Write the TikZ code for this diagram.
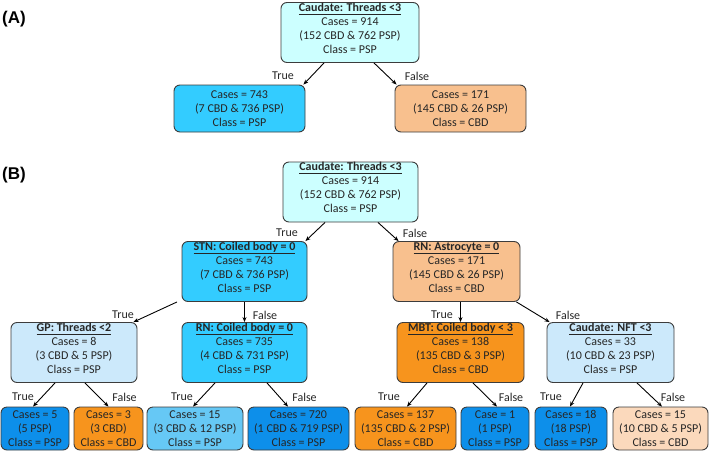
\documentclass[tikz,border=0pt]{standalone}
\usepackage{fontspec}
\setmainfont{Carlito}
\newfontfamily\panelfont{Liberation Sans}
\usepackage{tikz}
\usetikzlibrary{arrows.meta}
\definecolor{rootcyan}{HTML}{CCFFFF}
\definecolor{pspcyan}{HTML}{33CCFF}
\definecolor{pspsky}{HTML}{CCE9FB}
\definecolor{pspmid}{HTML}{66C8F5}
\definecolor{pspblue}{HTML}{0D8FEA}
\definecolor{cbdorange}{HTML}{F7941D}
\definecolor{cbdpeach}{HTML}{F8C08E}
\definecolor{cbdlight}{HTML}{FBD9BC}
\definecolor{inkgray}{HTML}{262626}
\definecolor{edgegray}{HTML}{3C3C3C}
\newcommand{\splithead}[1]{\underline{\smash{\textbf{#1}}\rule[-1.3pt]{0pt}{0pt}}}
\tikzstyle{box} = [draw=edgegray, line width=0.9pt, rounded corners=6pt, align=center, inner sep=1pt, text=inkgray, font=\fontsize{12}{14}\selectfont]
\tikzstyle{split} = [box, minimum height=60pt]
\tikzstyle{leaf} = [box, minimum height=43pt]
\tikzstyle{branch} = [inner sep=0pt, text=inkgray, font=\fontsize{12}{14}\selectfont]
\tikzstyle{panel} = [inner sep=0pt, font=\panelfont\fontsize{17}{20}\selectfont\bfseries]

\begin{document}
\begin{tikzpicture}[x=1pt, y=-1pt, >={Stealth[length=5pt, width=4pt]}, every path/.style={line width=0.9pt}]
			\useasboundingbox (0,0) rectangle (709,453);
			% (A)
			\node[panel]                                                        (labA)   at (14,19)      {(A)};
			\node[split, fill=rootcyan, minimum width=138pt]                    (rootA)  at (350,32.5)   {\splithead{Caudate: Threads <3}\\Cases = 914\\(152 CBD \& 762 PSP)\\Class = PSP};
			\node[box, fill=pspcyan, minimum width=131pt, minimum height=47pt]  (trueA)  at (239.5,108.5) {Cases = 743\\(7 CBD \& 736 PSP)\\Class = PSP};
			\node[box, fill=cbdpeach, minimum width=131pt, minimum height=47pt] (falseA) at (460.5,108.5) {Cases = 171\\(145 CBD \& 26 PSP)\\Class = CBD};
			\node[branch] (tA) at (283,76) {True};
			\node[branch] (fA) at (417,76) {False};

			\draw[->] ([xshift=-26pt]rootA.south) -- ([xshift=-2pt]trueA.north east);
			\draw[->] ([xshift=24pt]rootA.south)  -- ([xshift=2pt]falseA.north west);

			% (B)
			\node[panel]                                      (labB)  at (14,175)     {(B)};
			\node[split, fill=rootcyan, minimum width=135pt]  (rootB) at (350.5,192)  {\splithead{Caudate: Threads <3}\\Cases = 914\\(152 CBD \& 762 PSP)\\Class = PSP};
			\node[split, fill=pspcyan, minimum width=125pt]   (stn)   at (244.5,271.5) {\splithead{STN: Coiled body = 0}\\Cases = 743\\(7 CBD \& 736 PSP)\\Class = PSP};
			\node[split, fill=cbdpeach, minimum width=127pt]  (rna)   at (456.5,271.5) {\splithead{RN: Astrocyte = 0}\\Cases = 171\\(145 CBD \& 26 PSP)\\Class = CBD};
			\node[split, fill=pspsky, minimum width=126pt]    (gp)    at (74,352.5)   {\splithead{GP: Threads <2}\\Cases = 8\\(3 CBD \& 5 PSP)\\Class = PSP};
			\node[split, fill=pspcyan, minimum width=125pt]   (rnc)   at (244.5,352.5) {\splithead{RN: Coiled body = 0}\\Cases = 735\\(4 CBD \& 731 PSP)\\Class = PSP};
			\node[split, fill=cbdorange, minimum width=127pt] (mbt)   at (460.5,352.5) {\splithead{MBT: Coiled body < 3}\\Cases = 138\\(135 CBD \& 3 PSP)\\Class = CBD};
			\node[split, fill=pspsky, minimum width=127pt]    (nft)   at (610.5,352.5) {\splithead{Caudate: NFT <3}\\Cases = 33\\(10 CBD \& 23 PSP)\\Class = PSP};

			\node[leaf, fill=pspblue, minimum width=68pt]    (leaf1) at (35,428.5)    {Cases = 5\\(5 PSP)\\Class = PSP};
			\node[leaf, fill=cbdorange, minimum width=69pt]  (leaf2) at (108.5,428.5) {Cases = 3\\(3 CBD)\\Class = CBD};
			\node[leaf, fill=pspmid, minimum width=96pt]     (leaf3) at (195,428.5)   {Cases = 15\\(3 CBD \& 12 PSP)\\Class = PSP};
			\node[leaf, fill=pspblue, minimum width=101pt]   (leaf4) at (298.5,428.5) {Cases = 720\\(1 CBD \& 719 PSP)\\Class = PSP};
			\node[leaf, fill=cbdorange, minimum width=101pt] (leaf5) at (405.5,428.5) {Cases = 137\\(135 CBD \& 2 PSP)\\Class = CBD};
			\node[leaf, fill=pspblue, minimum width=68pt]    (leaf6) at (495,428.5)   {Case = 1\\(1 PSP)\\Class = PSP};
			\node[leaf, fill=pspblue, minimum width=72pt]    (leaf7) at (571,428.5)   {Cases = 18\\(18 PSP)\\Class = PSP};
			\node[leaf, fill=cbdlight, minimum width=95pt]   (leaf8) at (660.5,428.5) {Cases = 15\\(10 CBD \& 5 PSP)\\Class = CBD};

			\node[branch] (tB)   at (287,233)   {True};
			\node[branch] (fB)   at (415,233)   {False};
			\node[branch] (tSTN) at (123,315)   {True};
			\node[branch] (fSTN) at (265,315)   {False};
			\node[branch] (tRNa) at (442,315)   {True};
			\node[branch] (fRNa) at (568,315)   {False};
			\node[branch] (tGP)  at (23,397)    {True};
			\node[branch] (fGP)  at (124.5,397) {False};
			\node[branch] (tRNc) at (182,397)   {True};
			\node[branch] (fRNc) at (304.5,397) {False};
			\node[branch] (tMBT) at (389,397)   {True};
			\node[branch] (fMBT) at (511,397)   {False};
			\node[branch] (tNFT) at (551,397)   {True};
			\node[branch] (fNFT) at (673,397)   {False};

			\draw[->] ([xshift=-25.5pt]rootB.south) -- ([xshift=-2pt]stn.north east);
			\draw[->] ([xshift=27.5pt]rootB.south)  -- ([xshift=6pt]rna.north west);
			\draw[->] ([xshift=-67.5pt]stn.south)   -- ([xshift=-4pt]gp.north east);
			\draw[->] (rnc.north |- stn.south)      -- (rnc.north);
			\draw[->] (mbt.north |- rna.south)      -- (mbt.north);
			\draw[->] ([xshift=-4pt]rna.south east) -- ([xshift=3pt]nft.north west);
			\draw[->] ([xshift=-19pt]gp.south)      -- ([xshift=-2pt]leaf1.north);
			\draw[->] ([xshift=11pt]gp.south)       -- (leaf2.north);
			\draw[->] ([xshift=-29.5pt]rnc.south)   -- ([xshift=-2pt]leaf3.north);
			\draw[->] ([xshift=22.5pt]rnc.south)    -- ([xshift=-10.5pt]leaf4.north);
			\draw[->] ([xshift=-33.5pt]mbt.south)   -- ([xshift=1.5pt]leaf5.north);
			\draw[->] ([xshift=12.5pt]mbt.south)    -- ([xshift=2pt]leaf6.north);
			\draw[->] ([xshift=-27.5pt]nft.south)   -- ([xshift=-1pt]leaf7.north);
			\draw[->] ([xshift=26.5pt]nft.south)    -- ([xshift=1.5pt]leaf8.north);

		\end{tikzpicture}
\end{document}
